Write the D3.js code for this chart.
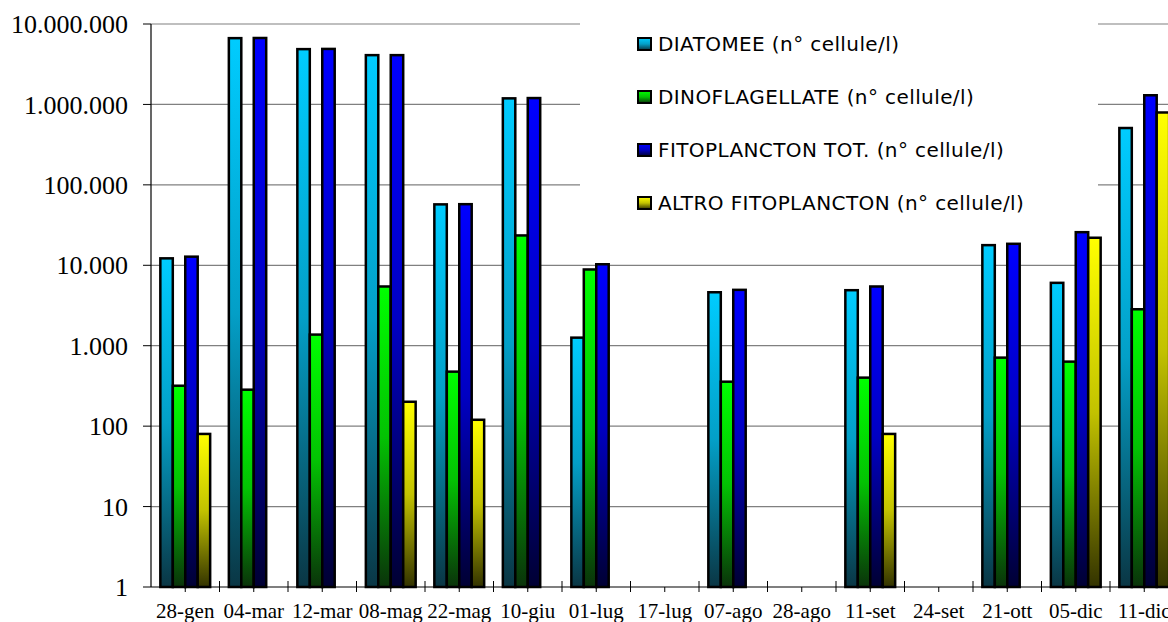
<!DOCTYPE html>
<html lang="it">
<head>
    <meta charset="UTF-8">
    <title>Fitoplancton</title>
    <script src="https://d3js.org/d3.v7.min.js"></script>
    <style>
        body { margin: 0; background: #fff; }
        svg { display: block; }
        .ylab, .xlab { font-family: 'Times New Roman', 'Liberation Serif', serif; fill: #000; }
        .leg { font-family: 'Comic Sans MS', 'DejaVu Sans', sans-serif; font-size: 20px; letter-spacing: 0.4px; fill: #000; }
    </style>
</head>
<body>
<div id="chart"></div>
<script>
    // data (n° cellule/l), null = no bar
    const categories = ["28-gen", "04-mar", "12-mar", "08-mag", "22-mag", "10-giu", "01-lug", "17-lug",
        "07-ago", "28-ago", "11-set", "24-set", "21-ott", "05-dic", "11-dic"];
    const diatomee = [12200, 6670000, 4870000, 4100000, 57200, 1190000, 1260, null, 4620, null, 4900, null, 17800, 6050, 509000];
    const dinoflagellate = [318, 284, 1375, 5450, 476, 23500, 8870, null, 357, null, 401, null, 711, 634, 2840];
    const fitoTot = [12800, 6700000, 4900000, 4100000, 57500, 1200000, 10300, null, 4950, null, 5450, null, 18500, 25800, 1300000];
    const altro = [80, null, null, 201, 120, null, null, null, null, null, 80, null, null, 22000, 794000];
    const seriesNames = ["DIATOMEE (n° cellule/l)", "DINOFLAGELLATE (n° cellule/l)",
        "FITOPLANCTON TOT. (n° cellule/l)", "ALTRO FITOPLANCTON (n° cellule/l)"];
    const yTicks = [1, 10, 100, 1000, 10000, 100000, 1000000, 10000000];

    const seriesValues = [diatomee, dinoflagellate, fitoTot, altro];
    const colors = [["#00CCFF", "#0A3644"], ["#00FF00", "#0A330A"], ["#0000FF", "#000033"], ["#FFFF00", "#333300"]];

    const width = 1168, height = 622;
    const plotLeft = 151, plotTop = 24, plotBottom = 587;
    const step = 68.5;

    const svg = d3.select("#chart").append("svg")
        .attr("width", width)
        .attr("height", height);

    const defs = svg.append("defs");
    colors.forEach((c, i) => {
        const g = defs.append("linearGradient")
            .attr("id", "grad" + i)
            .attr("x1", 0).attr("y1", 0).attr("x2", 0).attr("y2", 1);
        g.append("stop").attr("offset", "0%").attr("stop-color", c[0]);
        g.append("stop").attr("offset", "50%").attr("stop-color", d3.interpolateRgb(c[0], c[1])(0.3));
        g.append("stop").attr("offset", "100%").attr("stop-color", c[1]);
    });

    const x = d3.scaleBand()
        .domain(categories)
        .range([plotLeft, plotLeft + step * categories.length])
        .padding(0);

    const xs = d3.scaleBand()
        .domain(d3.range(4))
        .range([0, x.bandwidth()])
        .paddingInner(0)
        .paddingOuter(0.75);

    const y = d3.scaleLog()
        .domain([1, 1e7])
        .range([plotBottom, plotTop]);

    const fmt = d3.formatLocale({ decimal: ",", thousands: ".", grouping: [3], currency: ["", ""] }).format(",");

    // gridlines
    svg.append("g").selectAll("line")
        .data(yTicks.slice(1))
        .join("line")
        .attr("x1", plotLeft).attr("x2", width)
        .attr("y1", d => y(d)).attr("y2", d => y(d))
        .attr("stroke", "#808080")
        .attr("stroke-width", 1.2);

    // y labels + ticks
    svg.append("g").selectAll("line")
        .data(yTicks)
        .join("line")
        .attr("x1", plotLeft - 8).attr("x2", plotLeft)
        .attr("y1", d => y(d)).attr("y2", d => y(d))
        .attr("stroke", "#000");

    svg.append("g").selectAll("text")
        .data(yTicks)
        .join("text")
        .attr("class", "ylab")
        .attr("x", 128)
        .attr("y", d => y(d))
        .attr("dy", "0.35em")
        .attr("text-anchor", "end")
        .attr("font-size", "26px")
        .text(d => fmt(d));

    // legend background hides the gridlines behind it
    svg.append("rect")
        .attr("x", 580).attr("y", 8)
        .attr("width", 518).attr("height", 244)
        .attr("fill", "#fff");

    // bars
    seriesValues.forEach((vals, s) => {
        svg.append("g").selectAll("rect")
            .data(categories.map((c, i) => ({ c, v: vals[i] })).filter(d => d.v != null))
            .join("rect")
            .attr("x", d => x(d.c) + xs(s))
            .attr("y", d => y(d.v))
            .attr("width", xs.bandwidth())
            .attr("height", d => plotBottom - y(d.v))
            .attr("fill", `url(#grad${s})`)
            .attr("stroke", "#000")
            .attr("stroke-width", 2.5);
    });

    // axes lines
    svg.append("line")
        .attr("x1", plotLeft).attr("x2", plotLeft)
        .attr("y1", plotTop).attr("y2", plotBottom)
        .attr("stroke", "#000").attr("stroke-width", 1.2);
    svg.append("line")
        .attr("x1", plotLeft).attr("x2", width)
        .attr("y1", plotBottom).attr("y2", plotBottom)
        .attr("stroke", "#000").attr("stroke-width", 1.2);

    // x ticks: at category boundaries and centres
    svg.append("g").selectAll("line")
        .data(categories)
        .join("line")
        .attr("x1", d => x(d) + step).attr("x2", d => x(d) + step)
        .attr("y1", plotBottom - 6).attr("y2", plotBottom + 5)
        .attr("stroke", "#000");
    svg.append("g").selectAll("line")
        .data(categories)
        .join("line")
        .attr("x1", d => x(d) + step / 2).attr("x2", d => x(d) + step / 2)
        .attr("y1", plotBottom).attr("y2", plotBottom + 5)
        .attr("stroke", "#000");

    svg.append("g").selectAll("text")
        .data(categories)
        .join("text")
        .attr("class", "xlab")
        .attr("x", d => x(d) + step / 2)
        .attr("y", 618)
        .attr("text-anchor", "middle")
        .attr("font-size", "21px")
        .text(d => d);

    // legend
    const leg = svg.append("g").selectAll("g")
        .data(seriesNames)
        .join("g")
        .attr("transform", (d, i) => `translate(638,${44 + i * 53})`);
    leg.append("rect")
        .attr("x", 0).attr("y", -6)
        .attr("width", 13).attr("height", 12)
        .attr("fill", (d, i) => `url(#grad${i})`)
        .attr("stroke", "#000")
        .attr("stroke-width", 2);
    leg.append("text")
        .attr("class", "leg")
        .attr("x", 20)
        .attr("dy", "0.35em")
        .text(d => d);
</script>
</body>
</html>
